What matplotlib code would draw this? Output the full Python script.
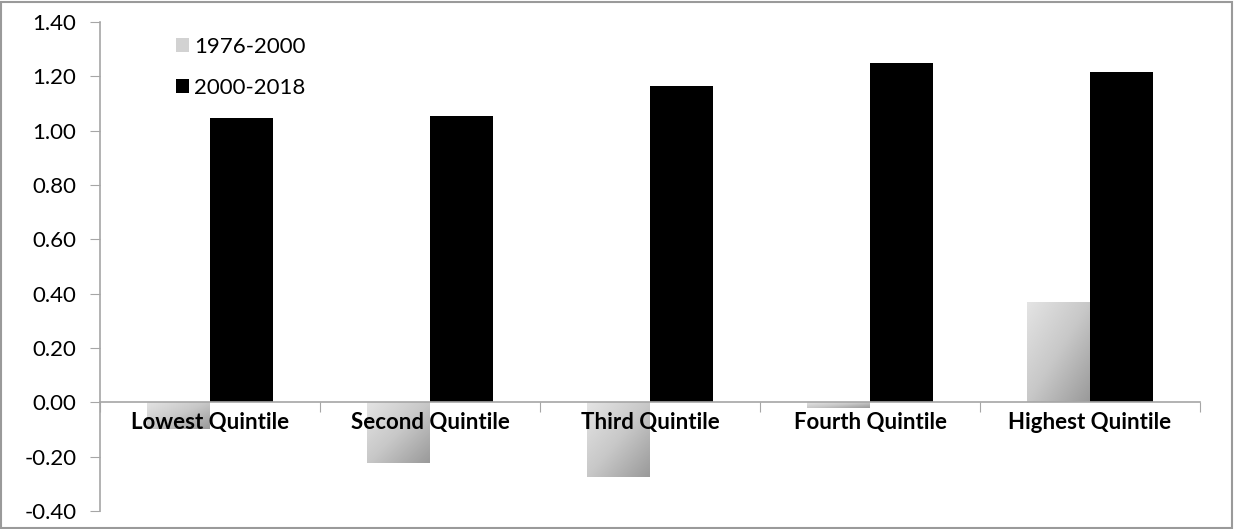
import numpy as np
import matplotlib
matplotlib.use("Agg")
from matplotlib import pyplot as plt
from matplotlib.patches import Rectangle, Patch
from matplotlib.colors import LinearSegmentedColormap

categories = ["Lowest Quintile", "Second Quintile", "Third Quintile", "Fourth Quintile", "Highest Quintile"]
vals_1976_2000 = [-0.10, -0.225, -0.275, -0.022, 0.37]
vals_2000_2018 = [1.047, 1.055, 1.165, 1.25, 1.215]
series_names = ["1976-2000", "2000-2018"]
y_ticks = [-0.40, -0.20, 0.00, 0.20, 0.40, 0.60, 0.80, 1.00, 1.20, 1.40]

plt.rcParams['font.family'] = ['Lato', 'DejaVu Sans']
axis_gray = '#a6a6a6'

fig = plt.figure(figsize=(12.34, 5.29), dpi=100)
ax = fig.add_axes([100 / 1234, 1 - 511 / 529, 1100 / 1234, 489 / 529])

# spines first: moving a spine resets the ticks
ax.spines['top'].set_visible(False)
ax.spines['right'].set_visible(False)
ax.spines['bottom'].set_position(('data', 0))
for s in ('left', 'bottom'):
    ax.spines[s].set_color(axis_gray)
    ax.spines[s].set_linewidth(1.2)

x = np.arange(len(categories))
w = 0.286

# gradient bars for the first period
grey_cmap = LinearSegmentedColormap.from_list('g', ['#e4e4e4', '#c8c8c8', '#9a9a9a'])
grad = np.add.outer(np.linspace(0, 1, 60), np.linspace(0, 1, 60)) / 2
bars1 = ax.bar(x - w / 2, vals_1976_2000, w, color='none', edgecolor='none')
for b in bars1:
    x0, y0 = b.get_x(), b.get_y()
    bw, bh = b.get_width(), b.get_height()
    top, bottom = max(y0, y0 + bh), min(y0, y0 + bh)
    im = ax.imshow(grad, cmap=grey_cmap, extent=(x0, x0 + bw, bottom, top),
                   origin='upper', aspect='auto', zorder=2, interpolation='bilinear')
    im.set_clip_path(b)

ax.bar(x + w / 2, vals_2000_2018, w, color='black', zorder=2)

ax.set_xlim(-0.5, len(categories) - 0.5)
ax.set_ylim(-0.40, 1.40)
ax.set_yticks(y_ticks)
ax.set_yticklabels(["%.2f" % v for v in y_ticks])

ax.set_xticks(np.arange(len(categories) + 1) - 0.5)
ax.set_xticklabels([])
ax.set_xticks(x, minor=True)
ax.tick_params(axis='x', which='major', length=7, color=axis_gray, direction='out')
ax.tick_params(axis='x', which='minor', length=0, pad=7)
ax.tick_params(axis='y', length=7, color=axis_gray, labelsize=16, pad=10)
ax.set_xticklabels(categories, minor=True, fontsize=16, fontweight='bold')
ax.set_axisbelow(False)

handles = [Patch(facecolor='#d2d2d2', edgecolor='none'), Patch(facecolor='black', edgecolor='none')]
ax.legend(handles, series_names, loc='upper left', bbox_to_anchor=(0.051, 1.01),
          frameon=False, fontsize=16, handlelength=0.6, handleheight=0.6,
          handletextpad=0.2, labelspacing=0.95)

# outer chart border
fig.patches.append(Rectangle((0.001, 0.002), 0.997, 0.995, transform=fig.transFigure,
                             fill=False, edgecolor='#9a9a9a', linewidth=1.5))

fig.savefig('out.png', dpi=100)
